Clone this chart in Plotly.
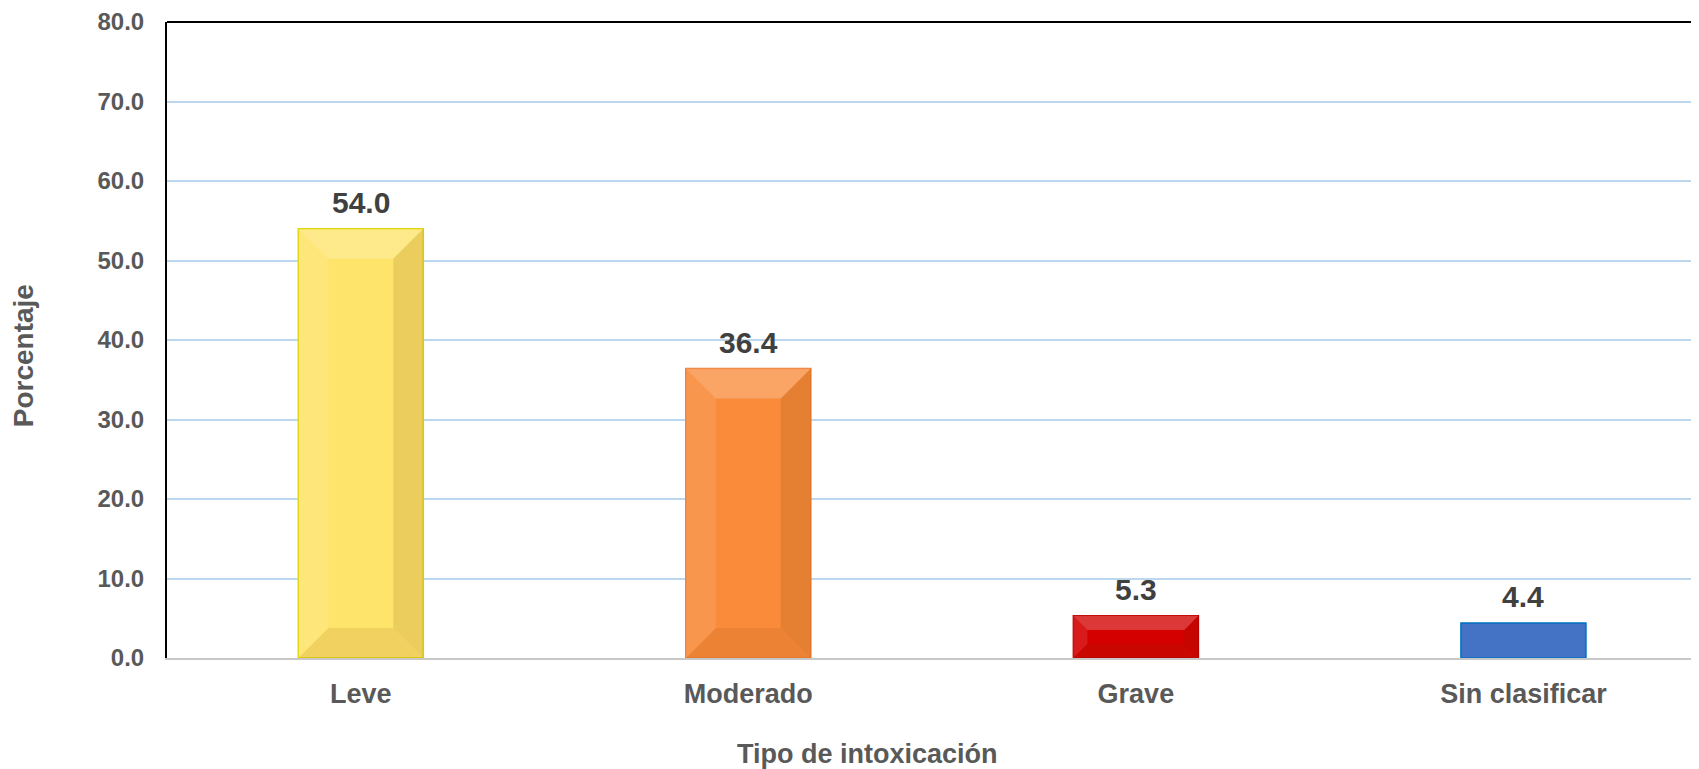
import plotly.graph_objects as go

# data
categories = ["Leve", "Moderado", "Grave", "Sin clasificar"]
values = [54.0, 36.4, 5.3, 4.4]
bar_colors = ["#FFE46B", "#F98B3A", "#D40000", "#4472C4"]
edge_colors = ["#E2D400", "#F07C30", "#C00000", "#0070C0"]
bevel = [True, True, True, False]
y_ticks = [0, 10, 20, 30, 40, 50, 60, 70, 80]

FONT = "Liberation Sans, Arial, sans-serif"
BAR_W = 0.3226

fig = go.Figure()
fig.add_trace(go.Bar(
    x=categories,
    y=values,
    width=BAR_W,
    marker=dict(color=bar_colors, line=dict(color=edge_colors, width=1.5)),
    hoverinfo="x+y",
    showlegend=False,
))

# value labels above the bars
for cat, v in zip(categories, values):
    fig.add_annotation(
        x=cat, y=v, text=f"<b>{v:.1f}</b>", showarrow=False,
        yanchor="bottom", yshift=8,
        font=dict(family=FONT, size=30, color="#404040"),
    )

# bevel look: light top/left, dark bottom/right
px_x = 1 / 387.5   # category units per pixel
px_y = 10 / 79.5   # value units per pixel
for i, (v, b) in enumerate(zip(values, bevel)):
    if not b:
        continue
    x0, x1 = i - BAR_W / 2, i + BAR_W / 2
    d = min(30, v / px_y / 3)
    dx, dy = d * px_x, d * px_y
    faces = [
        (f"M{x0},{v} L{x1},{v} L{x1-dx},{v-dy} L{x0+dx},{v-dy} Z", "rgba(255,255,255,0.22)"),
        (f"M{x0},0 L{x1},0 L{x1-dx},{dy} L{x0+dx},{dy} Z", "rgba(120,60,0,0.10)"),
        (f"M{x0},0 L{x0},{v} L{x0+dx},{v-dy} L{x0+dx},{dy} Z", "rgba(255,255,255,0.10)"),
        (f"M{x1},0 L{x1},{v} L{x1-dx},{v-dy} L{x1-dx},{dy} Z", "rgba(90,40,0,0.12)"),
    ]
    for path, col in faces:
        fig.add_shape(type="path", path=path, xref="x", yref="y",
                      fillcolor=col, line=dict(width=0), layer="above")

# top border of the plot area
fig.add_shape(type="line", xref="paper", yref="paper", x0=0, x1=1, y0=1, y1=1,
              line=dict(color="black", width=2))

fig.add_annotation(
    text="<b>Tipo de intoxicación</b>", xref="paper", yref="paper",
    x=0.457, y=-0.151, showarrow=False, xanchor="center", yanchor="middle",
    font=dict(family=FONT, size=27, color="#595959"),
)
fig.add_annotation(
    text="<b>Porcentaje</b>", xref="paper", yref="paper",
    x=-0.094, y=0.476, showarrow=False, textangle=-90,
    xanchor="center", yanchor="middle",
    font=dict(family=FONT, size=28, color="#595959"),
)

# page body has an 8px margin, so the figure is shrunk by that amount
fig.update_layout(
    width=1691, height=761,
    margin=dict(l=159, r=0, t=14, b=111),
    paper_bgcolor="white", plot_bgcolor="white",
    font=dict(family=FONT, color="#595959"),
    xaxis=dict(
        range=[-0.5, 3.453],
        showline=True, linecolor="#C8C8C8", linewidth=2,
        showgrid=False, ticks="",
        tickfont=dict(family=FONT, size=27, color="#595959"),
        ticklabelstandoff=11,
    ),
    yaxis=dict(
        range=[0, 80], tickvals=y_ticks,
        ticktext=[f"<b>{t:.1f}</b>" for t in y_ticks],
        showline=True, linecolor="black", linewidth=2,
        showgrid=True, gridcolor="#BDD7EE", gridwidth=2,
        zeroline=False, ticks="",
        tickfont=dict(family=FONT, size=24, color="#595959"),
        ticklabelstandoff=16,
    ),
)
fig.update_xaxes(ticktext=[f"<b>{c}</b>" for c in categories], tickvals=categories)

fig.write_html("out.html")
